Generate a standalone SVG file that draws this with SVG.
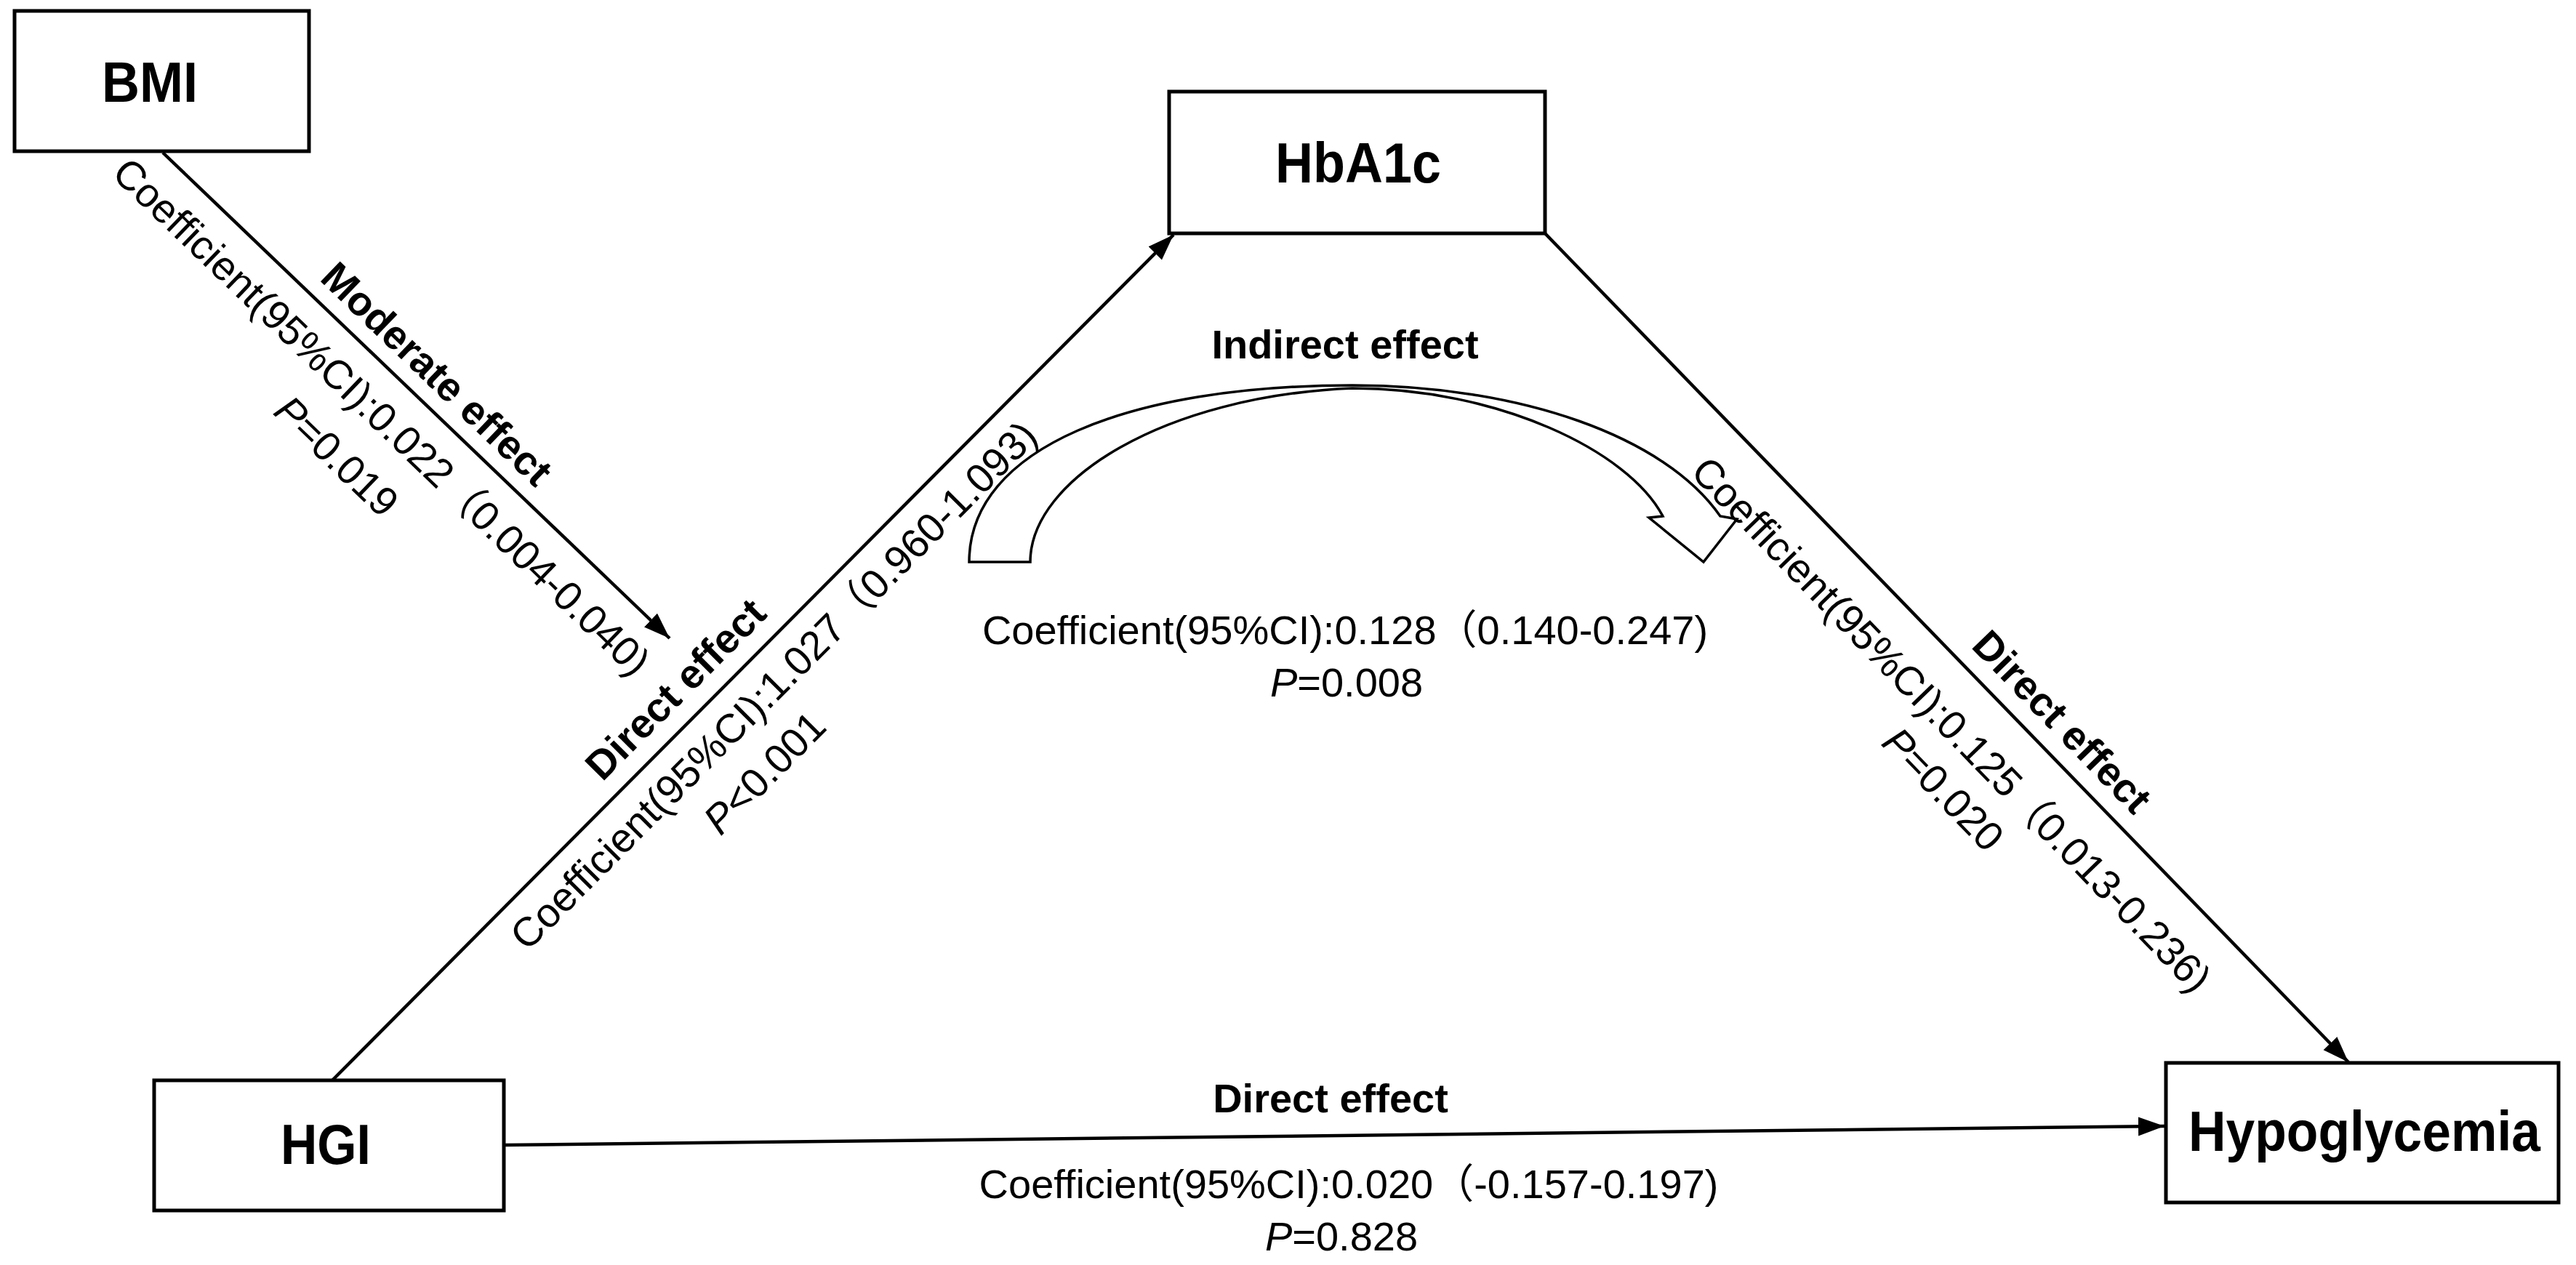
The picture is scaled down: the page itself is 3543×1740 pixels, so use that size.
<svg xmlns="http://www.w3.org/2000/svg" width="3543" height="1740" viewBox="0 0 3543 1740">
<style>
.box{fill:#fff;stroke:#000;stroke-width:5}
.node{font-family:"Liberation Sans","Noto Sans CJK SC",sans-serif;font-weight:bold;font-size:77px;fill:#000;text-anchor:middle}
.lbl{font-family:"Liberation Sans","Noto Sans CJK SC",sans-serif;font-weight:bold;font-size:56px;fill:#000;text-anchor:middle}
.coef{font-family:"Liberation Sans","Noto Sans CJK SC",sans-serif;font-size:56px;fill:#000;text-anchor:middle}
.edge{stroke:#000;stroke-width:4.5;fill:none;marker-end:url(#ah)}
.it{font-style:italic}
</style>
<defs>
<marker id="ah" markerUnits="userSpaceOnUse" markerWidth="40" markerHeight="28" refX="36" refY="13" orient="auto">
<path d="M0,0 L36,13 L0,26 z" fill="#000"/>
</marker>
</defs>
<rect width="3543" height="1740" fill="#fff"/>

<g id="connectors">
<line class="edge" x1="224" y1="210" x2="921" y2="878"/>
<line class="edge" x1="457" y1="1486" x2="1614" y2="323"/>
<line class="edge" x1="2125" y1="321" x2="3230" y2="1461"/>
<line class="edge" x1="693" y1="1575" x2="2977" y2="1549"/>
<path id="indirect-arrow" d="M1333,773 C1333,615 1555,530 1860,530 C2090,530 2290,600 2366,710 L2389,714 L2343,773 L2268,712 L2287,710 C2240,620 2060,534 1860,534 C1600,545 1417,660 1417,773 Z" fill="#fff" stroke="#000" stroke-width="3.5" stroke-linejoin="miter"/>
</g>

<g id="node-bmi">
<rect class="box" x="20" y="15" width="405" height="193"/>
<text class="node" x="206" y="140" textLength="132" lengthAdjust="spacingAndGlyphs">BMI</text>
</g>
<g id="node-hba1c">
<rect class="box" x="1608" y="126" width="517" height="195"/>
<text class="node" x="1868" y="251" textLength="228" lengthAdjust="spacingAndGlyphs">HbA1c</text>
</g>
<g id="node-hgi">
<rect class="box" x="212" y="1486" width="481" height="179"/>
<text class="node" x="448" y="1601" textLength="124" lengthAdjust="spacingAndGlyphs">HGI</text>
</g>
<g id="node-hypoglycemia">
<rect class="box" x="2979" y="1462" width="540" height="192"/>
<text class="node" x="3252" y="1583" textLength="484" lengthAdjust="spacingAndGlyphs">Hypoglycemia</text>
</g>

<g id="labels-bmi-edge" transform="translate(562.8,533.7) rotate(43.87)">
<text class="lbl" x="14" y="-21">Moderate effect</text>
<text class="coef" x="0" y="74">Coefficient(95%CI):0.022（0.004-0.040)</text>
<text class="coef" x="-7" y="156"><tspan class="it">P</tspan>=0.019</text>
</g>

<g id="labels-hgi-hba1c" transform="translate(993.5,948.7) rotate(-45.1)">
<text class="lbl" x="-45" y="-27">Direct effect</text>
<text class="coef" x="54" y="65">Coefficient(95%CI):1.027（0.960-1.093)</text>
<text class="coef" x="-40" y="141"><tspan class="it">P</tspan>&lt;0.001</text>
</g>

<g id="labels-hba1c-hypo" transform="translate(2750.9,966.8) rotate(45.94)">
<text class="lbl" x="78" y="-24">Direct effect</text>
<text class="coef" x="-25" y="88">Coefficient(95%CI):0.125（0.013-0.236)</text>
<text class="coef" x="31" y="158"><tspan class="it">P</tspan>=0.020</text>
</g>

<g id="labels-indirect">
<text class="lbl" x="1850" y="493">Indirect effect</text>
<text class="coef" x="1850" y="886">Coefficient(95%CI):0.128（0.140-0.247)</text>
<text class="coef" x="1852" y="958"><tspan class="it">P</tspan>=0.008</text>
</g>

<g id="labels-hgi-hypo">
<text class="lbl" x="1830" y="1530">Direct effect</text>
<text class="coef" x="1855" y="1648">Coefficient(95%CI):0.020（-0.157-0.197)</text>
<text class="coef" x="1845" y="1720"><tspan class="it">P</tspan>=0.828</text>
</g>
</svg>
